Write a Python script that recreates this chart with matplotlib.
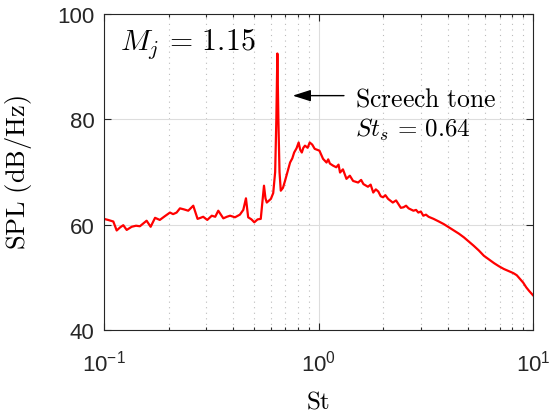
import numpy as np
import matplotlib
matplotlib.use("Agg")
import matplotlib.pyplot as plt
from matplotlib.ticker import LogLocator, NullFormatter, LogFormatterMathtext

plt.rcParams["font.family"] = ["Liberation Sans", "DejaVu Sans"]
plt.rcParams["mathtext.fontset"] = "cm"

# spectrum (St, SPL dB/Hz)
st = [0.100, 0.1045, 0.1105, 0.1146, 0.119, 0.123, 0.1276, 0.1346, 0.141, 0.147,
      0.158, 0.165, 0.173, 0.182, 0.192, 0.203, 0.210, 0.218, 0.226, 0.236, 0.247,
      0.2607, 0.273, 0.282, 0.290, 0.303, 0.318, 0.330, 0.341, 0.360, 0.374, 0.387,
      0.408, 0.430, 0.446, 0.459, 0.470, 0.487, 0.502, 0.520, 0.538, 0.557, 0.566,
      0.574, 0.600, 0.615, 0.628, 0.636, 0.643, 0.650, 0.658, 0.667, 0.683, 0.698,
      0.717, 0.737, 0.755, 0.77, 0.79, 0.808, 0.822, 0.836, 0.850, 0.865, 0.89,
      0.91, 0.935, 0.96, 1.01, 1.05, 1.09, 1.11, 1.13, 1.17, 1.21, 1.24, 1.26,
      1.30, 1.35, 1.40, 1.45, 1.53, 1.58, 1.62, 1.70, 1.75, 1.80, 1.85, 1.90,
      1.95, 2.00, 2.05, 2.11, 2.22, 2.30, 2.35, 2.42, 2.49, 2.56, 2.63, 2.77,
      2.85, 2.92, 3.00, 3.08, 3.17, 3.26, 3.44, 3.64, 3.84, 4.05, 4.27, 4.51,
      4.76, 5.02, 5.29, 5.59, 5.9, 6.23, 6.58, 6.94, 7.3, 7.7, 8.1, 8.4, 8.7,
      9.0, 9.3, 9.6, 9.9, 10.0]
spl = [61.1, 60.9, 60.6, 58.9, 59.5, 59.9, 59.0, 59.6, 59.8, 59.7,
       60.75, 59.6, 61.3, 60.9, 61.6, 62.3, 62.0, 62.3, 63.1, 62.9, 62.65,
       63.6, 61.1, 61.3, 61.5, 60.9, 61.7, 61.5, 62.65, 61.2, 61.5, 61.7,
       61.4, 61.9, 62.8, 65.0, 61.4, 61.0, 60.45, 61.0, 61.1, 67.4, 65.0,
       64.2, 64.9, 66.0, 70.0, 80.0, 92.5, 80.0, 70.0, 66.45, 67.0, 68.3,
       70.0, 71.8, 72.6, 73.7, 74.5, 75.6, 74.2, 73.7, 74.6, 75.0, 74.6,
       75.6, 75.2, 74.4, 74.05, 72.5, 71.8, 72.4, 71.6, 71.2, 70.9, 71.4, 69.9,
       70.5, 68.7, 69.3, 68.3, 68.0, 68.5, 67.7, 67.2, 67.6, 66.1, 66.7, 66.3,
       65.4, 65.2, 65.6, 64.9, 64.2, 64.6, 64.0, 63.2, 63.3, 63.6, 63.1, 62.65,
       62.8, 62.3, 62.5, 61.7, 61.9, 61.5, 61.1, 60.6, 60.1, 59.5, 58.9, 58.3,
       57.6, 56.8, 56.0, 55.1, 54.1, 53.4, 52.7, 52.1, 51.6, 51.2, 50.8, 50.4,
       49.7, 49.0, 48.1, 47.4, 46.8, 46.6]

fig = plt.figure(figsize=(5.5, 4.14), dpi=100)
ax = fig.add_axes([104 / 550, 1 - 331 / 414, 429 / 550, 316 / 414])

ax.semilogx(st, spl, color="#ff0000", linewidth=1.6)

ax.set_xlim(0.1, 10)
ax.set_ylim(40, 100)
ax.set_yticks([40, 60, 80, 100])
ax.xaxis.set_major_locator(LogLocator(base=10, numticks=5))
ax.xaxis.set_minor_locator(LogLocator(base=10, subs=np.arange(2, 10), numticks=20))
ax.xaxis.set_minor_formatter(NullFormatter())
ax.xaxis.set_major_formatter(LogFormatterMathtext())

ax.grid(which="major", color="#dddddd", linewidth=0.8, linestyle="-")
ax.grid(which="minor", axis="x", color="#bbbbbb", linewidth=0.8, linestyle=(0, (1, 4)))
ax.set_axisbelow(True)

ax.tick_params(which="both", direction="in", top=True, right=True, labelsize=16,
               colors="#262626", width=0.8)
ax.tick_params(which="major", length=5)
ax.tick_params(which="minor", length=2.5)
ax.tick_params(axis="x", pad=14)
ax.tick_params(axis="y", pad=7)
for s in ax.spines.values():
    s.set_color("#262626")
    s.set_linewidth(0.8)

ax.set_xlabel(r"$\mathrm{St}$", fontsize=18)
ax.set_ylabel(r"$\mathrm{SPL\ (dB/Hz)}$", fontsize=19)
ax.xaxis.set_label_coords(0.5, -0.185)
ax.yaxis.set_label_coords(-0.163, 0.5)

ax.text(0.1187, 93.35, r"$M_j\,=\,1.15$", fontsize=21.5, va="baseline", ha="left")
ax.annotate("", xy=(0.736, 84.5), xytext=(1.354, 84.5),
            arrowprops=dict(arrowstyle="-|>,head_length=1.1,head_width=0.35",
                            color="black", linewidth=1.0))
ax.text(1.48, 82.7, r"$\mathrm{Screech\ tone}$", fontsize=18.5, va="baseline", ha="left")
ax.text(1.48, 76.8, r"$St_s\,=\,0.64$", fontsize=18, va="baseline", ha="left")

fig.savefig("out.png", dpi=100)
